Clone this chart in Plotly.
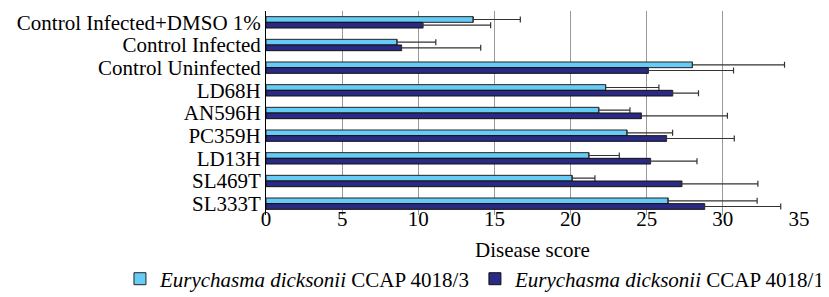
import plotly.graph_objects as go

categories = ["Control Infected+DMSO 1%", "Control Infected", "Control Uninfected",
              "LD68H", "AN596H", "PC359H", "LD13H", "SL469T", "SL333T"]
ccap3_values = [13.6, 8.6, 28.0, 22.3, 21.85, 23.7, 21.2, 20.1, 26.4]
ccap3_err = [3.1, 2.55, 6.05, 3.5, 2.05, 3.0, 2.0, 1.5, 5.85]
ccap1_values = [10.3, 8.9, 25.1, 26.7, 24.65, 26.3, 25.25, 27.3, 28.8]
ccap1_err = [4.45, 5.2, 5.6, 1.7, 5.65, 4.45, 3.05, 5.0, 5.0]
x_ticks = [0, 5, 10, 15, 20, 25, 30, 35]

FONT = "Liberation Serif, Times New Roman, serif"
FS = 21

fig = go.Figure()
fig.add_trace(go.Bar(
    y=categories, x=ccap3_values, orientation="h",
    name="<i>Eurychasma dicksonii</i> CCAP 4018/3",
    marker=dict(color="#66CCF5", line=dict(color="#222222", width=1)),
    error_x=dict(type="data", symmetric=False, array=ccap3_err,
                 arrayminus=[0] * len(ccap3_err), color="#333333",
                 thickness=1.2, width=3),
))
fig.add_trace(go.Bar(
    y=categories, x=ccap1_values, orientation="h",
    name="<i>Eurychasma dicksonii</i> CCAP 4018/1",
    marker=dict(color="#2A2A85", line=dict(color="#111111", width=1)),
    error_x=dict(type="data", symmetric=False, array=ccap1_err,
                 arrayminus=[0] * len(ccap1_err), color="#333333",
                 thickness=1.2, width=3),
))

fig.update_layout(
    width=829, height=297,
    margin=dict(l=258, r=38, t=3, b=90, autoexpand=False),
    barmode="group", bargap=0.5, bargroupgap=0.0,
    plot_bgcolor="white", paper_bgcolor="white",
    font=dict(family=FONT, size=FS, color="black"),
    showlegend=True,
    legend=dict(orientation="h", x=-0.274, xanchor="left",
                y=-0.314, yanchor="middle",
                font=dict(family=FONT, size=FS), itemwidth=30,
                traceorder="normal", tracegroupgap=0, borderwidth=0),
    xaxis=dict(range=[0, 35], tickvals=x_ticks, showgrid=True,
               gridcolor="#999999", gridwidth=1, zeroline=False,
               showline=False, ticks="", tickfont=dict(size=FS),
               ticklabelstandoff=-11),
    yaxis=dict(autorange="reversed", showline=True, linecolor="black",
               linewidth=1, ticks="", showgrid=False,
               tickmode="array", tickvals=categories, ticktext=categories,
               tickfont=dict(size=FS)),
    annotations=[dict(text="Disease score", xref="paper", x=0.5, xanchor="center",
                      yref="paper", y=-0.172, yanchor="middle", showarrow=False,
                      font=dict(family=FONT, size=FS))],
)

fig.write_html("out.html")
